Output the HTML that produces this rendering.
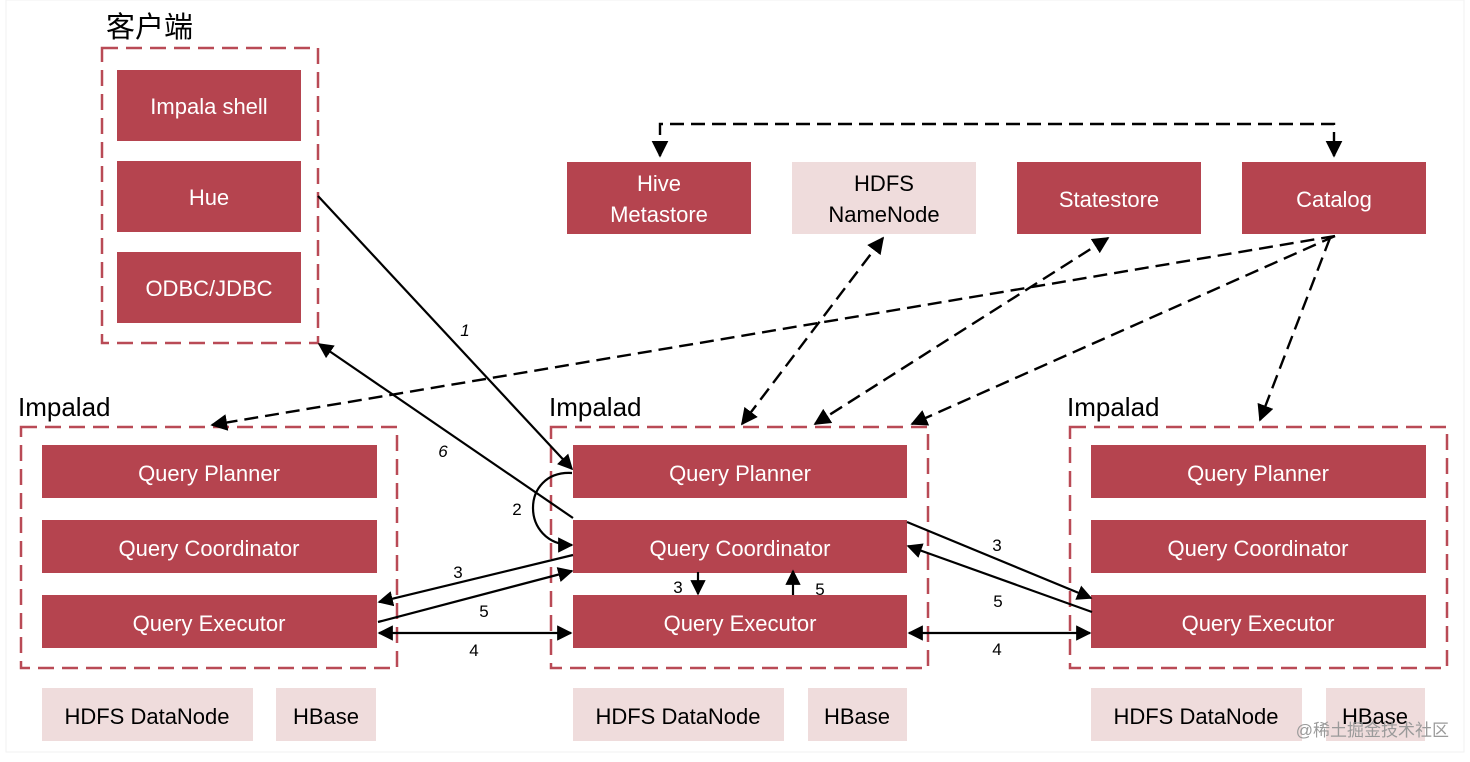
<!DOCTYPE html>
<html><head><meta charset="utf-8"><style>
html,body{margin:0;padding:0;background:#fff;}
svg{display:block;}
text{font-family:"Liberation Sans","Noto Sans CJK SC",sans-serif;}
</style></head><body>
<svg width="1470" height="762" viewBox="0 0 1470 762" xmlns="http://www.w3.org/2000/svg">
<defs>
<marker id="a" viewBox="0 0 10 10" refX="9" refY="5" markerWidth="7" markerHeight="7" orient="auto-start-reverse"><path d="M0,0 L10,5 L0,10 z" fill="#000"/></marker>
</defs>
<rect x="0" y="0" width="1470" height="762" fill="#fff"/>
<rect x="6" y="0" width="1458" height="752" fill="#fff" stroke="#f2f2f2" stroke-width="1"/>
<g fill="none" stroke="#b94a56" stroke-width="2.5" stroke-dasharray="16,8">
<rect x="102" y="48" width="216" height="295"/>
<rect x="21" y="427" width="376" height="241"/>
<rect x="551" y="427" width="377" height="241"/>
<rect x="1070" y="427" width="377" height="241"/>
</g>
<g font-size="29" fill="#000">
<text x="106" y="37">客户端</text>
<text x="18" y="416" font-size="26">Impalad</text>
<text x="549" y="416" font-size="26">Impalad</text>
<text x="1067" y="416" font-size="26">Impalad</text>
</g>
<g fill="#b5444f">
<rect x="117" y="70" width="184" height="71"/>
<rect x="117" y="161" width="184" height="71"/>
<rect x="117" y="252" width="184" height="71"/>
<rect x="567" y="162" width="184" height="72"/>
<rect x="1017" y="162" width="184" height="72"/>
<rect x="1242" y="162" width="184" height="72"/>
<rect x="42" y="445" width="335" height="53"/><rect x="42" y="520" width="335" height="53"/><rect x="42" y="595" width="335" height="53"/>
<rect x="573" y="445" width="334" height="53"/><rect x="573" y="520" width="334" height="53"/><rect x="573" y="595" width="334" height="53"/>
<rect x="1091" y="445" width="335" height="53"/><rect x="1091" y="520" width="335" height="53"/><rect x="1091" y="595" width="335" height="53"/>
</g>
<g fill="#efdcdc">
<rect x="792" y="162" width="184" height="72"/>
<rect x="42" y="688" width="211" height="53"/><rect x="276" y="688" width="100" height="53"/>
<rect x="573" y="688" width="211" height="53"/><rect x="808" y="688" width="99" height="53"/>
<rect x="1091" y="688" width="211" height="53"/><rect x="1326" y="688" width="99" height="53"/>
</g>
<g fill="#fff" font-size="22" text-anchor="middle">
<text x="209" y="114">Impala shell</text>
<text x="209" y="205">Hue</text>
<text x="209" y="296">ODBC/JDBC</text>
<text x="659" y="191">Hive</text><text x="659" y="222">Metastore</text>
<text x="1109" y="207">Statestore</text>
<text x="1334" y="207">Catalog</text>
<text x="209" y="481">Query Planner</text><text x="209" y="556">Query Coordinator</text><text x="209" y="631">Query Executor</text>
<text x="740" y="481">Query Planner</text><text x="740" y="556">Query Coordinator</text><text x="740" y="631">Query Executor</text>
<text x="1258" y="481">Query Planner</text><text x="1258" y="556">Query Coordinator</text><text x="1258" y="631">Query Executor</text>
</g>
<g fill="#000" font-size="22" text-anchor="middle">
<text x="884" y="191">HDFS</text><text x="884" y="222">NameNode</text>
<text x="147" y="724">HDFS DataNode</text><text x="326" y="724">HBase</text>
<text x="678" y="724">HDFS DataNode</text><text x="857" y="724">HBase</text>
<text x="1196" y="724">HDFS DataNode</text><text x="1375" y="724">HBase</text>
</g>
<g stroke="#000" stroke-width="2.4" fill="none" stroke-dasharray="14,7">
<path d="M660,156 L660,124 L1334,124 L1334,156" marker-start="url(#a)" marker-end="url(#a)"/>
<line x1="883" y1="238" x2="742" y2="424" marker-start="url(#a)" marker-end="url(#a)"/>
<line x1="1108" y1="238" x2="815" y2="424" marker-start="url(#a)" marker-end="url(#a)"/>
<line x1="1335" y1="236" x2="212" y2="425" marker-end="url(#a)"/>
<line x1="1335" y1="236" x2="912" y2="424" marker-end="url(#a)"/>
<line x1="1330" y1="238" x2="1260" y2="420" marker-end="url(#a)"/>
</g>
<g stroke="#000" stroke-width="2.2" fill="none">
<line x1="318" y1="196" x2="572" y2="469" marker-end="url(#a)"/>
<line x1="573" y1="518" x2="319" y2="344" marker-end="url(#a)"/>
<path d="M572,473 C520,470 520,545 572,545" marker-end="url(#a)"/>
<line x1="573" y1="555" x2="379" y2="602" marker-end="url(#a)"/>
<line x1="378" y1="622" x2="572" y2="571" marker-end="url(#a)"/>
<line x1="379" y1="633" x2="571" y2="633" marker-start="url(#a)" marker-end="url(#a)"/>
<line x1="698" y1="572" x2="698" y2="594" marker-end="url(#a)"/>
<line x1="793" y1="595" x2="793" y2="571" marker-end="url(#a)"/>
<line x1="907" y1="522" x2="1091" y2="598" marker-end="url(#a)"/>
<line x1="1092" y1="612" x2="908" y2="546" marker-end="url(#a)"/>
<line x1="909" y1="633" x2="1090" y2="633" marker-start="url(#a)" marker-end="url(#a)"/>
</g>
<g fill="#000" font-size="17" text-anchor="middle">
<text x="465" y="336" font-style="italic">1</text>
<text x="443" y="457" font-style="italic">6</text>
<text x="517" y="515">2</text>
<text x="458" y="578">3</text>
<text x="484" y="617">5</text>
<text x="474" y="656">4</text>
<text x="678" y="593">3</text>
<text x="820" y="595">5</text>
<text x="997" y="551">3</text>
<text x="998" y="607">5</text>
<text x="997" y="655">4</text>
</g>
<text x="1449" y="736" font-size="17" fill="#9a9a9a" text-anchor="end">@稀土掘金技术社区</text>
</svg>
</body></html>
